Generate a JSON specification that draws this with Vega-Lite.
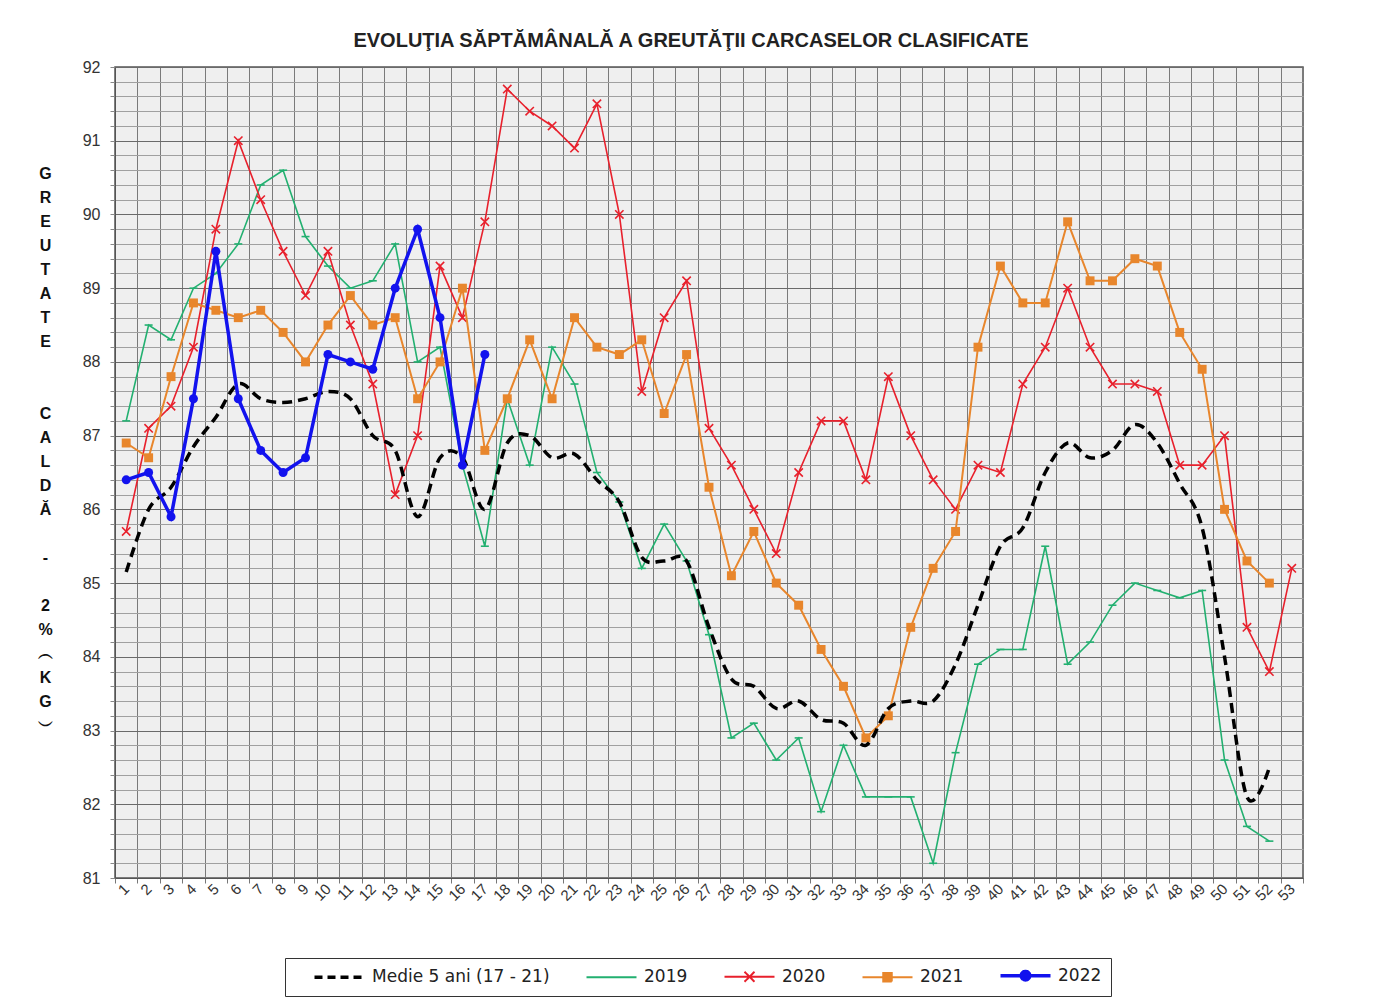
{
"$schema": "https://vega.github.io/schema/vega-lite/v6.json",
"width": 1188, "height": 811,
"autosize": {"type": "none"},
"padding": {"left": 115, "top": 67, "right": 78, "bottom": 121},
"background": "white",
"title": {"text": "EVOLUŢIA SĂPTĂMÂNALĂ A GREUTĂŢII CARCASELOR CLASIFICATE", "font": "Liberation Sans", "fontSize": 20, "fontWeight": "bold", "color": "#222", "anchor": "middle", "offset": 8, "dx": -18},
"config": {"view": {"fill": "#efefef", "stroke": "#555", "strokeWidth": 1.5}, "axis": {"labelFont": "Liberation Sans", "titleFont": "Liberation Sans"}},
"datasets": {"rows": [
{"week":1,"series":"Medie 5 ani (17 - 21)","value":85.15},{"week":2,"series":"Medie 5 ani (17 - 21)","value":86.0},{"week":3,"series":"Medie 5 ani (17 - 21)","value":86.3},{"week":4,"series":"Medie 5 ani (17 - 21)","value":86.85},{"week":5,"series":"Medie 5 ani (17 - 21)","value":87.25},{"week":6,"series":"Medie 5 ani (17 - 21)","value":87.7},{"week":7,"series":"Medie 5 ani (17 - 21)","value":87.5},{"week":8,"series":"Medie 5 ani (17 - 21)","value":87.45},{"week":9,"series":"Medie 5 ani (17 - 21)","value":87.5},{"week":10,"series":"Medie 5 ani (17 - 21)","value":87.6},{"week":11,"series":"Medie 5 ani (17 - 21)","value":87.5},{"week":12,"series":"Medie 5 ani (17 - 21)","value":87.0},{"week":13,"series":"Medie 5 ani (17 - 21)","value":86.8},{"week":14,"series":"Medie 5 ani (17 - 21)","value":85.9},{"week":15,"series":"Medie 5 ani (17 - 21)","value":86.7},{"week":16,"series":"Medie 5 ani (17 - 21)","value":86.7},{"week":17,"series":"Medie 5 ani (17 - 21)","value":86.0},{"week":18,"series":"Medie 5 ani (17 - 21)","value":86.9},{"week":19,"series":"Medie 5 ani (17 - 21)","value":87.0},{"week":20,"series":"Medie 5 ani (17 - 21)","value":86.7},{"week":21,"series":"Medie 5 ani (17 - 21)","value":86.75},{"week":22,"series":"Medie 5 ani (17 - 21)","value":86.4},{"week":23,"series":"Medie 5 ani (17 - 21)","value":86.1},{"week":24,"series":"Medie 5 ani (17 - 21)","value":85.35},{"week":25,"series":"Medie 5 ani (17 - 21)","value":85.3},{"week":26,"series":"Medie 5 ani (17 - 21)","value":85.3},{"week":27,"series":"Medie 5 ani (17 - 21)","value":84.4},{"week":28,"series":"Medie 5 ani (17 - 21)","value":83.7},{"week":29,"series":"Medie 5 ani (17 - 21)","value":83.6},{"week":30,"series":"Medie 5 ani (17 - 21)","value":83.3},{"week":31,"series":"Medie 5 ani (17 - 21)","value":83.4},{"week":32,"series":"Medie 5 ani (17 - 21)","value":83.15},{"week":33,"series":"Medie 5 ani (17 - 21)","value":83.1},{"week":34,"series":"Medie 5 ani (17 - 21)","value":82.8},{"week":35,"series":"Medie 5 ani (17 - 21)","value":83.3},{"week":36,"series":"Medie 5 ani (17 - 21)","value":83.4},{"week":37,"series":"Medie 5 ani (17 - 21)","value":83.4},{"week":38,"series":"Medie 5 ani (17 - 21)","value":83.9},{"week":39,"series":"Medie 5 ani (17 - 21)","value":84.7},{"week":40,"series":"Medie 5 ani (17 - 21)","value":85.5},{"week":41,"series":"Medie 5 ani (17 - 21)","value":85.75},{"week":42,"series":"Medie 5 ani (17 - 21)","value":86.5},{"week":43,"series":"Medie 5 ani (17 - 21)","value":86.9},{"week":44,"series":"Medie 5 ani (17 - 21)","value":86.7},{"week":45,"series":"Medie 5 ani (17 - 21)","value":86.8},{"week":46,"series":"Medie 5 ani (17 - 21)","value":87.15},{"week":47,"series":"Medie 5 ani (17 - 21)","value":86.9},{"week":48,"series":"Medie 5 ani (17 - 21)","value":86.35},{"week":49,"series":"Medie 5 ani (17 - 21)","value":85.75},{"week":50,"series":"Medie 5 ani (17 - 21)","value":84.0},{"week":51,"series":"Medie 5 ani (17 - 21)","value":82.1},{"week":52,"series":"Medie 5 ani (17 - 21)","value":82.5},
{"week":1,"series":"2019","value":87.2},{"week":2,"series":"2019","value":88.5},{"week":3,"series":"2019","value":88.3},{"week":4,"series":"2019","value":89.0},{"week":5,"series":"2019","value":89.2},{"week":6,"series":"2019","value":89.6},{"week":7,"series":"2019","value":90.4},{"week":8,"series":"2019","value":90.6},{"week":9,"series":"2019","value":89.7},{"week":10,"series":"2019","value":89.3},{"week":11,"series":"2019","value":89.0},{"week":12,"series":"2019","value":89.1},{"week":13,"series":"2019","value":89.6},{"week":14,"series":"2019","value":88.0},{"week":15,"series":"2019","value":88.2},{"week":16,"series":"2019","value":86.6},{"week":17,"series":"2019","value":85.5},{"week":18,"series":"2019","value":87.5},{"week":19,"series":"2019","value":86.6},{"week":20,"series":"2019","value":88.2},{"week":21,"series":"2019","value":87.7},{"week":22,"series":"2019","value":86.5},{"week":23,"series":"2019","value":86.1},{"week":24,"series":"2019","value":85.2},{"week":25,"series":"2019","value":85.8},{"week":26,"series":"2019","value":85.3},{"week":27,"series":"2019","value":84.3},{"week":28,"series":"2019","value":82.9},{"week":29,"series":"2019","value":83.1},{"week":30,"series":"2019","value":82.6},{"week":31,"series":"2019","value":82.9},{"week":32,"series":"2019","value":81.9},{"week":33,"series":"2019","value":82.8},{"week":34,"series":"2019","value":82.1},{"week":35,"series":"2019","value":82.1},{"week":36,"series":"2019","value":82.1},{"week":37,"series":"2019","value":81.2},{"week":38,"series":"2019","value":82.7},{"week":39,"series":"2019","value":83.9},{"week":40,"series":"2019","value":84.1},{"week":41,"series":"2019","value":84.1},{"week":42,"series":"2019","value":85.5},{"week":43,"series":"2019","value":83.9},{"week":44,"series":"2019","value":84.2},{"week":45,"series":"2019","value":84.7},{"week":46,"series":"2019","value":85.0},{"week":47,"series":"2019","value":84.9},{"week":48,"series":"2019","value":84.8},{"week":49,"series":"2019","value":84.9},{"week":50,"series":"2019","value":82.6},{"week":51,"series":"2019","value":81.7},{"week":52,"series":"2019","value":81.5},
{"week":1,"series":"2020","value":85.7},{"week":2,"series":"2020","value":87.1},{"week":3,"series":"2020","value":87.4},{"week":4,"series":"2020","value":88.2},{"week":5,"series":"2020","value":89.8},{"week":6,"series":"2020","value":91.0},{"week":7,"series":"2020","value":90.2},{"week":8,"series":"2020","value":89.5},{"week":9,"series":"2020","value":88.9},{"week":10,"series":"2020","value":89.5},{"week":11,"series":"2020","value":88.5},{"week":12,"series":"2020","value":87.7},{"week":13,"series":"2020","value":86.2},{"week":14,"series":"2020","value":87.0},{"week":15,"series":"2020","value":89.3},{"week":16,"series":"2020","value":88.6},{"week":17,"series":"2020","value":89.9},{"week":18,"series":"2020","value":91.7},{"week":19,"series":"2020","value":91.4},{"week":20,"series":"2020","value":91.2},{"week":21,"series":"2020","value":90.9},{"week":22,"series":"2020","value":91.5},{"week":23,"series":"2020","value":90.0},{"week":24,"series":"2020","value":87.6},{"week":25,"series":"2020","value":88.6},{"week":26,"series":"2020","value":89.1},{"week":27,"series":"2020","value":87.1},{"week":28,"series":"2020","value":86.6},{"week":29,"series":"2020","value":86.0},{"week":30,"series":"2020","value":85.4},{"week":31,"series":"2020","value":86.5},{"week":32,"series":"2020","value":87.2},{"week":33,"series":"2020","value":87.2},{"week":34,"series":"2020","value":86.4},{"week":35,"series":"2020","value":87.8},{"week":36,"series":"2020","value":87.0},{"week":37,"series":"2020","value":86.4},{"week":38,"series":"2020","value":86.0},{"week":39,"series":"2020","value":86.6},{"week":40,"series":"2020","value":86.5},{"week":41,"series":"2020","value":87.7},{"week":42,"series":"2020","value":88.2},{"week":43,"series":"2020","value":89.0},{"week":44,"series":"2020","value":88.2},{"week":45,"series":"2020","value":87.7},{"week":46,"series":"2020","value":87.7},{"week":47,"series":"2020","value":87.6},{"week":48,"series":"2020","value":86.6},{"week":49,"series":"2020","value":86.6},{"week":50,"series":"2020","value":87.0},{"week":51,"series":"2020","value":84.4},{"week":52,"series":"2020","value":83.8},{"week":53,"series":"2020","value":85.2},
{"week":1,"series":"2021","value":86.9},{"week":2,"series":"2021","value":86.7},{"week":3,"series":"2021","value":87.8},{"week":4,"series":"2021","value":88.8},{"week":5,"series":"2021","value":88.7},{"week":6,"series":"2021","value":88.6},{"week":7,"series":"2021","value":88.7},{"week":8,"series":"2021","value":88.4},{"week":9,"series":"2021","value":88.0},{"week":10,"series":"2021","value":88.5},{"week":11,"series":"2021","value":88.9},{"week":12,"series":"2021","value":88.5},{"week":13,"series":"2021","value":88.6},{"week":14,"series":"2021","value":87.5},{"week":15,"series":"2021","value":88.0},{"week":16,"series":"2021","value":89.0},{"week":17,"series":"2021","value":86.8},{"week":18,"series":"2021","value":87.5},{"week":19,"series":"2021","value":88.3},{"week":20,"series":"2021","value":87.5},{"week":21,"series":"2021","value":88.6},{"week":22,"series":"2021","value":88.2},{"week":23,"series":"2021","value":88.1},{"week":24,"series":"2021","value":88.3},{"week":25,"series":"2021","value":87.3},{"week":26,"series":"2021","value":88.1},{"week":27,"series":"2021","value":86.3},{"week":28,"series":"2021","value":85.1},{"week":29,"series":"2021","value":85.7},{"week":30,"series":"2021","value":85.0},{"week":31,"series":"2021","value":84.7},{"week":32,"series":"2021","value":84.1},{"week":33,"series":"2021","value":83.6},{"week":34,"series":"2021","value":82.9},{"week":35,"series":"2021","value":83.2},{"week":36,"series":"2021","value":84.4},{"week":37,"series":"2021","value":85.2},{"week":38,"series":"2021","value":85.7},{"week":39,"series":"2021","value":88.2},{"week":40,"series":"2021","value":89.3},{"week":41,"series":"2021","value":88.8},{"week":42,"series":"2021","value":88.8},{"week":43,"series":"2021","value":89.9},{"week":44,"series":"2021","value":89.1},{"week":45,"series":"2021","value":89.1},{"week":46,"series":"2021","value":89.4},{"week":47,"series":"2021","value":89.3},{"week":48,"series":"2021","value":88.4},{"week":49,"series":"2021","value":87.9},{"week":50,"series":"2021","value":86.0},{"week":51,"series":"2021","value":85.3},{"week":52,"series":"2021","value":85.0},
{"week":1,"series":"2022","value":86.4},{"week":2,"series":"2022","value":86.5},{"week":3,"series":"2022","value":85.9},{"week":4,"series":"2022","value":87.5},{"week":5,"series":"2022","value":89.5},{"week":6,"series":"2022","value":87.5},{"week":7,"series":"2022","value":86.8},{"week":8,"series":"2022","value":86.5},{"week":9,"series":"2022","value":86.7},{"week":10,"series":"2022","value":88.1},{"week":11,"series":"2022","value":88.0},{"week":12,"series":"2022","value":87.9},{"week":13,"series":"2022","value":89.0},{"week":14,"series":"2022","value":89.8},{"week":15,"series":"2022","value":88.6},{"week":16,"series":"2022","value":86.6},{"week":17,"series":"2022","value":88.1}
]},
"data": {"name": "rows"},
"encoding": {
 "x": {"field": "week", "type": "ordinal", "scale": {"type": "band", "paddingInner": 0, "paddingOuter": 0},
   "axis": {"title": null, "grid": true, "tickBand": "extent", "gridColor": "#7a7a7a", "gridWidth": 1, "labelAngle": -45, "labelAlign": "right", "labelBaseline": "middle", "labelFontSize": 15, "labelColor": "#333", "labelPadding": 3, "tickSize": 5, "tickColor": "#777", "domainColor": "#555", "labelOverlap": false}},
 "y": {"field": "value", "type": "quantitative", "scale": {"domain": [81, 92], "zero": false, "nice": false},
   "axis": {"values": [81,81.2,81.4,81.6,81.8,82,82.2,82.4,82.6,82.8,83,83.2,83.4,83.6,83.8,84,84.2,84.4,84.6,84.8,85,85.2,85.4,85.6,85.8,86,86.2,86.4,86.6,86.8,87,87.2,87.4,87.6,87.8,88,88.2,88.4,88.6,88.8,89,89.2,89.4,89.6,89.8,90,90.2,90.4,90.6,90.8,91,91.2,91.4,91.6,91.8,92],
     "labelExpr": "abs(datum.value - round(datum.value)) < 0.01 ? format(datum.value, 'd') : ''",
     "labelOverlap": false, "labelFlush": false, "labelFontSize": 16, "labelColor": "#333", "labelPadding": 10,
     "grid": true, "gridColor": {"condition": {"test": "abs(datum.value - round(datum.value)) < 0.01", "value": "#6a6a6a"}, "value": "#a0a0a0"},
     "tickSize": 5, "tickColor": "#888", "domainColor": "#555",
     "title": ["G","R","E","U","T","A","T","E","\u2800","\u2800","C","A","L","D","Ă","\u2800","-","\u2800","2","%","︵","K","G","︶"],
     "titleAngle": 0, "titleFontSize": 16, "titleFontWeight": "bold", "titleColor": "#111", "titleLineHeight": 24,
     "titleAlign": "center", "titleBaseline": "middle", "titleX": -70, "titleY": 106}},
 "color": {"field": "series", "type": "nominal",
   "scale": {"domain": ["Medie 5 ani (17 - 21)", "2019", "2020", "2021", "2022"], "range": ["#000000", "#22b070", "#e8202c", "#e8862c", "#1212ee"]},
   "legend": {"orient": "none", "legendX": 170, "legendY": 891, "direction": "horizontal", "title": null,
     "strokeColor": "#333", "fillColor": "white", "padding": 9, "symbolSize": 2500, "symbolType": "stroke", "symbolOffset": 37,
     "symbolStrokeWidth": 2, "labelFont": "DejaVu Sans", "labelFontSize": 17, "labelColor": "#222", "labelLimit": 400,
     "columnPadding": 16, "labelOffset": 24,
     "encode": {"symbols": {"update": {
       "shape": {"signal": "datum.value === '2020' ? 'M-1,0L1,0M-0.2,-0.2L0.2,0.2M-0.2,0.2L0.2,-0.2' : datum.value === '2021' ? 'M-1,0L1,0M-0.17,-0.17L0.17,-0.17L0.17,0.17L-0.17,0.17Z' : datum.value === '2022' ? 'M-1,0L1,0M-0.17,0A0.17,0.17,0,1,1,0.17,0A0.17,0.17,0,1,1,-0.17,0Z' : 'M-1,0L1,0'"},
       "fill": {"signal": "datum.value === '2021' ? '#e8862c' : datum.value === '2022' ? '#1212ee' : 'transparent'"},
       "strokeWidth": {"signal": "datum.value === '2022' || datum.value === 'Medie 5 ani (17 - 21)' ? 3.5 : 2"},
       "strokeDash": {"signal": "datum.value === 'Medie 5 ani (17 - 21)' ? [8, 5] : [1, 0]"}
     }}}}}
},
"layer": [
 {"transform": [{"filter": "datum.series === '2019'"}], "mark": {"type": "line", "strokeWidth": 1.6}},
 {"transform": [{"filter": "datum.series === '2019'"}], "mark": {"type": "point", "shape": "M-1,0L1,0", "size": 64, "filled": false, "strokeWidth": 1.6, "opacity": 1}},
 {"transform": [{"filter": "datum.series === '2020'"}], "mark": {"type": "line", "strokeWidth": 1.6}},
 {"transform": [{"filter": "datum.series === '2020'"}], "mark": {"type": "point", "shape": "M-1,-1L1,1M-1,1L1,-1", "size": 70, "filled": false, "strokeWidth": 1.6, "opacity": 1}},
 {"transform": [{"filter": "datum.series === '2021'"}], "mark": {"type": "line", "strokeWidth": 2}},
 {"transform": [{"filter": "datum.series === '2021'"}], "mark": {"type": "point", "shape": "square", "size": 80, "filled": true, "opacity": 1}},
 {"transform": [{"filter": "datum.series === 'Medie 5 ani (17 - 21)'"}], "mark": {"type": "line", "strokeWidth": 3.5, "strokeDash": [10, 6], "interpolate": "cardinal"}},
 {"transform": [{"filter": "datum.series === '2022'"}], "mark": {"type": "line", "strokeWidth": 3.5}},
 {"transform": [{"filter": "datum.series === '2022'"}], "mark": {"type": "point", "shape": "circle", "size": 81, "filled": true, "opacity": 1}}
]
}
